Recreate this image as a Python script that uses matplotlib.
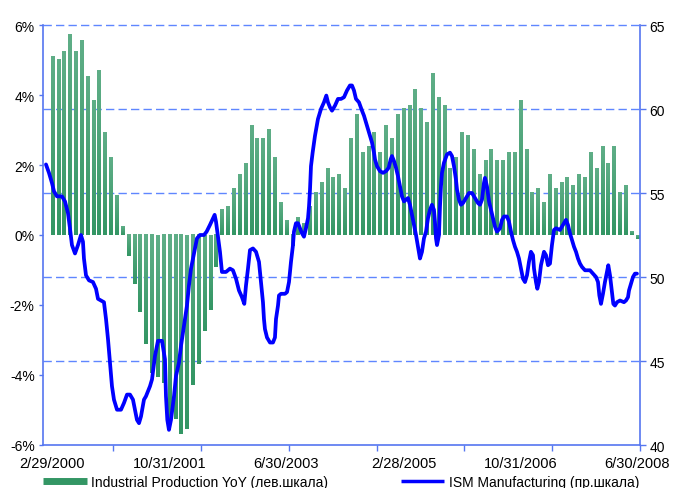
import matplotlib
matplotlib.use('Agg')
import matplotlib.pyplot as plt
import numpy as np
import pandas as pd
from matplotlib.lines import Line2D
from matplotlib.colors import LinearSegmentedColormap

plt.rcParams['font.family'] = ['Liberation Sans', 'DejaVu Sans']

# ---------------- data ----------------
months = pd.date_range('2000-02-29', periods=101, freq='ME')

ip_yoy = [
    5.10, 5.02, 5.25, 5.73, 5.25, 5.56, 4.53, 3.85, 4.70, 2.93,
    2.22, 1.13, 0.25, -0.61, -1.41, -2.21, -3.12, -3.95, -4.05, -4.23,
    -5.26, -5.26, -5.70, -5.54, -4.30, -3.70, -2.73, -2.13, -0.92, 0.72,
    0.82, 1.33, 1.73, 2.04, 3.13, 2.76, 2.76, 3.02, 2.22, 0.93,
    0.42, -0.32, 0.50, 0.33, 0.82, 1.22, 1.50, 1.90, 1.65, 1.73,
    1.33, 2.76, 3.45, 2.36, 2.53, 2.93, 2.36, 3.13, 2.76, 3.45,
    3.62, 3.70, 4.16, 3.62, 3.22, 4.62, 3.93, 3.70, 1.90, 2.22,
    2.93, 2.85, 2.45, 1.73, 2.13, 2.45, 2.13, 2.13, 2.36, 2.36,
    3.85, 2.45, 1.22, 1.33, 0.93, 1.73, 1.33, 1.50, 1.65, 1.42,
    1.73, 1.65, 2.36, 1.90, 2.53, 2.05, 2.53, 1.22, 1.42, 0.10,
    -0.10,
]

# ISM: time in months since Feb-2000 (fractional), value (index points)
ism_t = [
    -1.11, -0.60, -0.09, 0.26, 0.77, 1.62, 2.14, 2.65, 2.99, 3.33,
    3.85, 4.36, 4.87, 5.21, 5.38, 5.73, 6.24, 6.92, 7.44, 7.78,
    8.29, 8.80, 9.15, 9.49, 9.83, 10.17, 10.51, 11.03, 11.71, 12.22,
    12.74, 13.25, 13.76, 14.10, 14.44, 14.79, 15.13, 15.64, 15.98, 16.67,
    17.01, 17.52, 18.03, 18.72, 19.23, 19.40, 19.63, 19.91, 20.26, 20.77,
    21.11, 21.62, 21.97, 22.48, 22.99, 23.33, 23.68, 24.02, 24.36, 24.70,
    25.21, 25.90, 26.35, 26.92, 27.44, 27.72, 27.95, 28.29, 28.63, 28.97,
    29.66, 30.34, 30.85, 31.37, 31.88, 32.39, 32.79, 33.08, 33.42, 33.76,
    34.27, 34.79, 35.30, 35.64, 35.98, 36.15, 36.32, 36.67, 37.18, 37.69,
    38.03, 38.21, 38.55, 38.72, 39.06, 39.74, 40.09, 40.43, 40.77, 41.11,
    41.28, 41.62, 41.97, 42.31, 42.65, 42.99, 43.33, 43.68, 43.85, 44.02,
    44.19, 44.47, 44.87, 45.38, 45.90, 46.41, 46.81, 47.09, 47.44, 47.78,
    48.29, 48.80, 49.32, 49.83, 50.34, 50.85, 51.20, 51.54, 51.88, 52.39,
    52.91, 53.25, 53.59, 53.93, 54.27, 54.62, 54.96, 55.13, 55.47, 55.98,
    56.50, 57.01, 57.47, 57.81, 58.03, 58.38, 58.72, 59.06, 59.40, 59.74,
    60.09, 60.43, 60.77, 61.11, 61.45, 61.79, 62.14, 62.48, 62.82, 63.16,
    63.50, 63.85, 64.19, 64.53, 64.87, 65.21, 65.38, 65.56, 65.73, 66.07,
    66.24, 66.41, 66.58, 66.92, 67.44, 67.95, 68.29, 68.63, 68.97, 69.15,
    69.49, 69.83, 70.17, 70.68, 71.20, 71.71, 72.22, 72.74, 73.08, 73.42,
    73.76, 73.93, 74.27, 74.62, 74.96, 75.30, 75.64, 75.98, 76.50, 76.84,
    77.18, 77.69, 78.03, 78.38, 78.72, 79.06, 79.40, 79.74, 80.09, 80.43,
    80.77, 81.11, 81.45, 81.79, 82.14, 82.31, 82.65, 82.88, 83.16, 83.50,
    84.02, 84.36, 84.70, 85.04, 85.38, 85.73, 86.07, 86.75, 87.09, 87.44,
    87.78, 88.12, 88.46, 88.80, 89.15, 89.49, 89.83, 90.17, 90.51, 91.03,
    91.88, 92.39, 92.91, 93.25, 93.48, 93.76, 94.10, 94.44, 94.79, 95.01,
    95.30, 95.64, 95.87, 96.15, 96.50, 97.01, 97.69, 98.03, 98.38, 98.55,
    98.89, 99.23, 99.57, 99.91,
]
ism_v = [
    56.7, 56.2, 55.6, 55.1, 54.8, 54.8, 54.5, 53.8, 52.9, 51.9,
    51.4, 51.9, 52.5, 52.1, 51.1, 50.1, 49.8, 49.7, 49.3, 48.7,
    48.6, 48.5, 47.5, 46.3, 44.9, 43.5, 42.7, 42.1, 42.1, 42.5,
    43.0, 43.0, 42.7, 42.1, 41.5, 41.3, 41.7, 42.7, 42.9, 43.5,
    43.9, 45.3, 46.2, 46.2, 45.1, 42.9, 41.5, 40.9, 41.5, 42.9,
    44.1, 44.9, 45.9, 47.1, 48.3, 49.5, 50.5, 51.1, 51.7, 52.3,
    52.5, 52.5, 52.7, 53.1, 53.5, 53.7, 53.3, 52.4, 51.5, 50.3,
    50.3, 50.5, 50.4, 49.9, 49.2, 48.8, 48.4, 49.5, 50.5, 51.6,
    51.7, 51.5, 50.9, 49.7, 48.5, 47.5, 46.9, 46.4, 46.1, 46.1,
    46.4, 47.5, 48.3, 48.9, 49.0, 49.0, 49.1, 49.7, 50.9, 51.9,
    52.7, 53.2, 53.2, 52.9, 52.6, 52.4, 52.9, 53.5, 54.2, 55.2,
    56.6, 57.4, 58.4, 59.4, 60.0, 60.4, 60.8, 60.4, 60.1, 59.9,
    60.2, 60.6, 60.6, 60.7, 61.1, 61.4, 61.4, 61.1, 60.6, 60.4,
    59.9, 59.6, 59.2, 58.8, 58.4, 58.0, 57.4, 57.0, 56.6, 56.3,
    56.2, 56.3, 56.5, 57.0, 57.2, 56.9, 56.5, 56.0, 55.4, 54.8,
    54.5, 54.6, 54.7, 54.3, 53.7, 53.1, 52.5, 51.8, 51.1, 51.5,
    52.3, 52.7, 53.5, 54.0, 54.3, 54.0, 53.3, 52.3, 51.9, 52.5,
    54.2, 55.4, 56.2, 56.8, 57.3, 57.4, 57.2, 56.6, 55.8, 55.2,
    54.6, 54.3, 54.4, 54.7, 55.0, 55.0, 54.7, 54.4, 54.3, 54.6,
    55.6, 55.9, 55.4, 54.5, 54.0, 53.5, 53.0, 52.7, 52.9, 53.4,
    53.6, 53.6, 53.3, 52.7, 52.2, 51.8, 51.5, 51.1, 50.5, 49.9,
    49.7, 50.1, 50.9, 51.5, 51.3, 50.5, 49.7, 49.3, 49.7, 50.7,
    51.5, 51.3, 50.7, 50.8, 51.9, 52.8, 52.9, 52.8, 53.0, 53.2,
    53.4, 53.1, 52.6, 52.2, 51.8, 51.5, 51.1, 50.8, 50.6, 50.4,
    50.4, 50.2, 50.0, 49.7, 48.9, 48.4, 49.0, 49.7, 50.3, 50.7,
    50.1, 49.1, 48.4, 48.3, 48.5, 48.6, 48.5, 48.6, 48.8, 49.2,
    49.6, 50.0, 50.2, 50.2,
]

left_ticks = [-6, -4, -2, 0, 2, 4, 6]
left_labels = ['-6%', '-4%', '-2%', '0%', '2%', '4%', '6%']
right_ticks = [40, 45, 50, 55, 60, 65]
label_every = 20
legend_labels = ['Industrial Production YoY (лев.шкала)', 'ISM Manufacturing (пр.шкала)']

# ---------------- style ----------------
W, H = 673, 489
AX_BLUE = '#5576f0'
GRID_BLUE = '#5f86ff'
LINE_BLUE = '#0000ff'
BAR_DARK = '#339664'
BAR_LIGHT = '#5fae87'
FS = 10

fig = plt.figure(figsize=(W / 100, H / 100), dpi=100)
ax = fig.add_axes([43 / W, 43 / H, 597 / W, 420 / H])
ax2 = ax.twinx()

x = np.arange(len(ip_yoy))
xlim = (-1.62, 100.43)
ax.set_xlim(*xlim)
ax.set_ylim(-6, 6)
ax2.set_ylim(40, 65)

# bars with vertical gradient
bars = ax.bar(x, ip_yoy, width=0.62, color='none', edgecolor='none', zorder=2)
cmap = LinearSegmentedColormap.from_list('g', [BAR_DARK, BAR_LIGHT])
grad = np.linspace(0, 1, 64).reshape(-1, 1)
for b in bars:
    x0, w = b.get_x(), b.get_width()
    y0, h = b.get_y(), b.get_height()
    lo, hi = min(y0, y0 + h), max(y0, y0 + h)
    ax.imshow(grad, extent=[x0, x0 + w, lo, hi], origin='lower', cmap=cmap,
              aspect='auto', interpolation='bilinear', zorder=2)
ax.set_xlim(*xlim)
ax.set_ylim(-6, 6)

# gridlines at right-axis ticks (drawn behind bars)
l0, l1 = ax.get_ylim()
r0, r1 = ax2.get_ylim()
for rv in right_ticks[1:]:
    lv = l0 + (rv - r0) / (r1 - r0) * (l1 - l0)
    ax.axhline(lv, color=GRID_BLUE, lw=1.0, dashes=(6, 3), zorder=1, clip_on=False)

# ISM line
ax2.plot(ism_t, ism_v, color=LINE_BLUE, lw=2.7, solid_joinstyle='round',
         solid_capstyle='round', zorder=5)

# axes styling
for a in (ax, ax2):
    for s in a.spines.values():
        s.set_visible(False)
ax.spines['left'].set_visible(True)
ax.spines['bottom'].set_visible(True)
ax2.spines['right'].set_visible(True)
for s in (ax.spines['left'], ax.spines['bottom'], ax2.spines['right']):
    s.set_color(AX_BLUE)
    s.set_linewidth(1.2)

ax.set_yticks(left_ticks)
ax.set_yticklabels(left_labels)
ax.tick_params(axis='y', direction='out', length=3, width=1, color=AX_BLUE,
               labelsize=FS, pad=3)
ax2.set_yticks(right_ticks)
ax2.set_yticklabels([str(v) for v in right_ticks])
ax2.tick_params(axis='y', direction='out', length=4, width=1, color=AX_BLUE,
                labelsize=FS, pad=3)

label_pos = x[::label_every]
ax.set_xticks(label_pos)
ax.set_xticklabels([f'{m.month}/{m.day}/{m.year}' for m in months[::label_every]])
ax.tick_params(axis='x', length=0, labelsize=FS + 0.5, pad=8)
ax.set_xticks(np.arange(10.4, 101, 15), minor=True)
ax.tick_params(axis='x', which='minor', direction='out', length=4, width=1,
               color=AX_BLUE)

# legend
handles = [Line2D([0], [0], color=BAR_DARK, lw=5, solid_capstyle='butt'),
           Line2D([0], [0], color=LINE_BLUE, lw=2.5, solid_capstyle='butt')]
fig.legend(handles, legend_labels, loc='center', bbox_to_anchor=(0.507, 1 - 483 / H),
           ncol=2, frameon=False, fontsize=FS, handlelength=3.1,
           handletextpad=0.3, columnspacing=5.3, borderaxespad=0)

fig.savefig('out.png', dpi=100)
